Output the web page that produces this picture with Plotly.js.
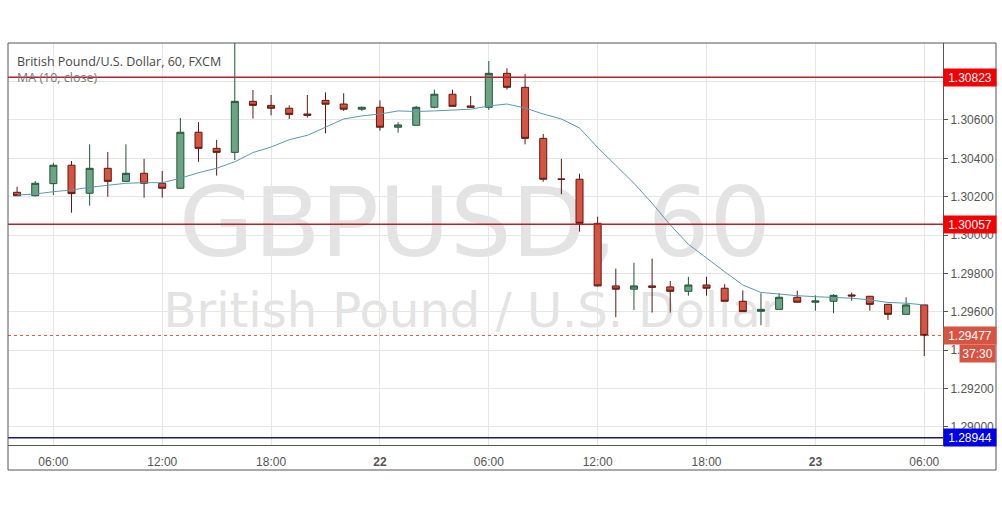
<!DOCTYPE html>
<html>
<head>
<meta charset="utf-8">
<script src="https://cdn.plot.ly/plotly-3.0.1.min.js"></script>
<style>
  html, body { margin: 0; padding: 0; background: #ffffff; }
  #wrap { position: relative; width: 1002px; height: 508px; }
  #wm { position: absolute; left: 0; top: 0; z-index: 0; }
  #chart { position: absolute; left: 0; top: 0; width: 1002px; height: 508px; z-index: 1; }
</style>
</head>
<body>
<div id="wrap">
  <svg id="wm" width="1002" height="508">
    <text x="475" y="256" text-anchor="middle" font-family="DejaVu Sans" font-size="97" fill="#e3e3e3">GBPUSD, 60</text>
    <text x="472" y="327" text-anchor="middle" font-family="DejaVu Sans" font-size="48" fill="#e3e3e3">British Pound / U.S. Dollar</text>
  </svg>
  <div id="chart"></div>
</div>
<script>
// ---- data ----
const time = [
  "2018-10-21 04:00","2018-10-21 05:00","2018-10-21 06:00","2018-10-21 07:00","2018-10-21 08:00",
  "2018-10-21 09:00","2018-10-21 10:00","2018-10-21 11:00","2018-10-21 12:00","2018-10-21 13:00",
  "2018-10-21 14:00","2018-10-21 15:00","2018-10-21 16:00","2018-10-21 17:00","2018-10-21 18:00",
  "2018-10-21 19:00","2018-10-21 20:00","2018-10-21 21:00","2018-10-21 22:00","2018-10-21 23:00",
  "2018-10-22 00:00","2018-10-22 01:00","2018-10-22 02:00","2018-10-22 03:00","2018-10-22 04:00",
  "2018-10-22 05:00","2018-10-22 06:00","2018-10-22 07:00","2018-10-22 08:00","2018-10-22 09:00",
  "2018-10-22 10:00","2018-10-22 11:00","2018-10-22 12:00","2018-10-22 13:00","2018-10-22 14:00",
  "2018-10-22 15:00","2018-10-22 16:00","2018-10-22 17:00","2018-10-22 18:00","2018-10-22 19:00",
  "2018-10-22 20:00","2018-10-22 21:00","2018-10-22 22:00","2018-10-22 23:00","2018-10-23 00:00",
  "2018-10-23 01:00","2018-10-23 02:00","2018-10-23 03:00","2018-10-23 04:00","2018-10-23 05:00",
  "2018-10-23 06:00"
];
const open = [
  1.30223,1.30205,1.30268,1.30364,1.30218,1.30348,1.30280,1.30322,1.30270,1.30244,
  1.30536,1.30452,1.30431,1.30697,1.30676,1.30661,1.30631,1.30702,1.30683,1.30656,
  1.30666,1.30562,1.30572,1.30666,1.30734,1.30673,1.30666,1.30843,1.30770,1.30504,
  1.30292,1.30291,1.30061,1.29735,1.29718,1.29735,1.29730,1.29707,1.29740,1.29723,
  1.29655,1.29603,1.29613,1.29676,1.29650,1.29655,1.29688,1.29681,1.29639,1.29587,1.29636
];
const high = [
  1.30252,1.30282,1.30377,1.30386,1.30473,1.30433,1.30473,1.30397,1.30334,1.30610,
  1.30589,1.30496,1.31010,1.30756,1.30730,1.30676,1.30730,1.30744,1.30739,1.30669,
  1.30702,1.30589,1.30673,1.30758,1.30758,1.30725,1.30907,1.30869,1.30840,1.30527,
  1.30397,1.30320,1.30096,1.29825,1.29856,1.29877,1.29761,1.29782,1.29782,1.29744,
  1.29712,1.29697,1.29697,1.29710,1.29686,1.29692,1.29700,1.29683,1.29641,1.29676,1.29636
];
const low = [
  1.30204,1.30201,1.30209,1.30117,1.30153,1.30200,1.30277,1.30195,1.30195,1.30240,
  1.30382,1.30310,1.30391,1.30607,1.30624,1.30605,1.30612,1.30530,1.30647,1.30647,
  1.30544,1.30534,1.30572,1.30661,1.30671,1.30666,1.30652,1.30758,1.30473,1.30278,
  1.30213,1.30018,1.29732,1.29572,1.29610,1.29596,1.29596,1.29684,1.29684,1.29655,
  1.29601,1.29530,1.29613,1.29650,1.29606,1.29593,1.29658,1.29606,1.29558,1.29587,1.29370
];
const close = [
  1.30205,1.30270,1.30364,1.30216,1.30348,1.30280,1.30322,1.30270,1.30244,1.30536,
  1.30452,1.30431,1.30697,1.30676,1.30661,1.30629,1.30624,1.30682,1.30656,1.30666,
  1.30562,1.30574,1.30666,1.30734,1.30671,1.30666,1.30843,1.30770,1.30504,1.30291,
  1.30291,1.30061,1.29735,1.29718,1.29735,1.29728,1.29707,1.29740,1.29723,1.29655,
  1.29601,1.29613,1.29676,1.29650,1.29657,1.29686,1.29683,1.29639,1.29587,1.29636,1.29477
];
const ma10 = [
  1.30209,1.30214,1.30226,1.30235,1.30249,1.30261,1.30270,1.30273,1.30273,1.30296,
  1.30325,1.30348,1.30382,1.30430,1.30459,1.30497,1.30520,1.30562,1.30605,1.30621,
  1.30631,1.30647,1.30644,1.30647,1.30650,1.30656,1.30673,1.30683,1.30662,1.30631,
  1.30605,1.30558,1.30456,1.30365,1.30270,1.30166,1.30053,1.29952,1.29879,1.29809,
  1.29740,1.29701,1.29693,1.29684,1.29679,1.29674,1.29671,1.29662,1.29649,1.29645,1.29636
];
const redLevels = [1.30823, 1.30057];
const blueLevel = 1.28944;
const lastPrice = 1.29477;
const countdown = "37:30";
const xTickVals = ["2018-10-21 06:00","2018-10-21 12:00","2018-10-21 18:00","2018-10-22 00:00",
  "2018-10-22 06:00","2018-10-22 12:00","2018-10-22 18:00","2018-10-23 00:00","2018-10-23 06:00"];
const xTickText = ["06:00","12:00","18:00","<b>22</b>","06:00","12:00","18:00","<b>23</b>","06:00"];
const yTickVals = [1.290, 1.292, 1.294, 1.296, 1.298, 1.300, 1.302, 1.304, 1.306, 1.308];
const yTickText = ["1.29000","1.29200","1.29400","1.29600","1.29800","1.30000","1.30200","1.30400","1.30600",""];
const titleText = "British Pound/U.S. Dollar, 60, FXCM";
const maText = "MA (10, close)";

// ---- traces ----
const candles = {
  type: "candlestick",
  x: time, open: open, high: high, low: low, close: close,
  increasing: { fillcolor: "#6BA583", line: { color: "#225437", width: 1 } },
  decreasing: { fillcolor: "#D75442", line: { color: "#5B1A13", width: 1 } },
  whiskerwidth: 0,
  hoverinfo: "none",
  showlegend: false
};
const maLine = {
  type: "scatter", mode: "lines", x: time, y: ma10,
  line: { color: "#5b98b0", width: 1 },
  hoverinfo: "none", showlegend: false
};

const shapes = [];
redLevels.forEach(v => shapes.push({
  type: "line", xref: "paper", yref: "y", x0: 0, x1: 1, y0: v, y1: v,
  line: { color: "#b0242b", width: 1.5 }
}));
shapes.push({ type: "line", xref: "paper", yref: "y", x0: 0, x1: 1, y0: blueLevel, y1: blueLevel,
  line: { color: "#1a1a6a", width: 1.5 } });
shapes.push({ type: "line", xref: "paper", yref: "y", x0: 0, x1: 1, y0: lastPrice, y1: lastPrice,
  line: { color: "#d75442", width: 1, dash: "dot" } });
// outer frame
shapes.push({ type: "rect", xref: "paper", yref: "paper", x0: 0, x1: 1.0567, y0: -0.0622, y1: 1,
  line: { color: "#555555", width: 1 }, fillcolor: "rgba(0,0,0,0)" });

const annotations = [];
annotations.push({ xref: "paper", yref: "paper", x: 0.0075, y: 0.953, xanchor: "left", yanchor: "middle",
  text: titleText, showarrow: false, font: { family: "Open Sans", size: 12.5, color: "#474747" } });
annotations.push({ xref: "paper", yref: "paper", x: 0.0075, y: 0.915, xanchor: "left", yanchor: "middle",
  text: maText, showarrow: false, font: { family: "Open Sans", size: 12.5, color: "#777777" } });
function priceBox(v, bg) {
  return { xref: "paper", yref: "y", x: 1.0, y: v, xanchor: "left", yanchor: "middle",
    text: v.toFixed(5), showarrow: false, bgcolor: bg, borderpad: 2, width: 48, height: 13,
    align: "center", font: { family: "Liberation Sans", size: 12, color: "#ffffff" } };
}
redLevels.forEach(v => annotations.push(priceBox(v, "#f40000")));
annotations.push(priceBox(blueLevel, "#0000e6"));
annotations.push(priceBox(lastPrice, "#d75442"));
annotations.push({ xref: "paper", yref: "y", x: 1.0567, y: lastPrice, yshift: -18, xanchor: "right", yanchor: "middle",
  text: countdown, showarrow: false, bgcolor: "#d75442", borderpad: 2, width: 31, height: 13,
  align: "center", font: { family: "Liberation Sans", size: 12, color: "#ffffff" } });

const layout = {
  width: 1002, height: 508,
  margin: { l: 8, r: 59, t: 43, b: 63 },
  paper_bgcolor: "rgba(0,0,0,0)",
  plot_bgcolor: "rgba(0,0,0,0)",
  showlegend: false,
  boxgap: 0.45,
  xaxis: {
    type: "date",
    range: ["2018-10-21 03:30", "2018-10-23 07:02"],
    rangeslider: { visible: false },
    tickmode: "array", tickvals: xTickVals, ticktext: xTickText,
    showgrid: true, gridcolor: "#e6e6e6", gridwidth: 1,
    showline: true, linecolor: "#555555", linewidth: 1,
    ticks: "", ticklabelstandoff: 6,
    tickfont: { family: "Liberation Sans", size: 12, color: "#555555" },
    zeroline: false, fixedrange: true
  },
  yaxis: {
    side: "right",
    range: [1.28906, 1.31001],
    tickmode: "array", tickvals: yTickVals, ticktext: yTickText,
    showgrid: true, gridcolor: "#e6e6e6", gridwidth: 1,
    showline: true, linecolor: "#555555", linewidth: 1,
    ticks: "outside", ticklen: 4, tickcolor: "#555555",
    tickfont: { family: "Liberation Sans", size: 12, color: "#555555" },
    zeroline: false, fixedrange: true
  },
  shapes: shapes,
  annotations: annotations
};

Plotly.newPlot("chart", [candles, maLine], layout, { displayModeBar: false, staticPlot: true });
</script>
</body>
</html>
